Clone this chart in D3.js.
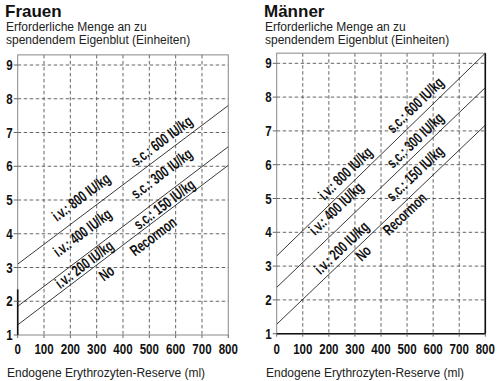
<!DOCTYPE html>
<html><head><meta charset="utf-8">
<script src="https://cdn.jsdelivr.net/npm/d3@7/dist/d3.min.js"></script>
<style>
body{margin:0;background:#fff;}
svg{display:block;}
.narrow{font-family:"Liberation Sans",Arial,sans-serif;font-weight:bold;}
.reg{font-family:"Liberation Sans",Arial,sans-serif;}
</style></head>
<body><svg id="c" width="500" height="381"></svg>
<script>
// ---- data ----
const panelTitles = ["Frauen", "Männer"];
const yTitleLines = ["Erforderliche Menge an zu", "spendendem Eigenblut (Einheiten)"];
const xTitle = "Endogene Erythrozyten-Reserve (ml)";
const xTicks = [0, 100, 200, 300, 400, 500, 600, 700, 800];
const yTicks = [1, 2, 3, 4, 5, 6, 7, 8, 9];
// line endpoints: value at 0 ml and at 800 ml
const frauenStart = [3.1, 1.85, 1.3];
const frauenEnd = [7.8, 6.58, 6.03];
const maennerStart = [3.3, 2.37, 1.28];
const maennerEnd = [9.3, 8.28, 7.17];
// labels: text, line they follow, centre position (ml, units)
const labelTexts = ["i.v.: 800 IU/kg", "s.c.: 600 IU/kg", "i.v.: 400 IU/kg", "s.c.: 300 IU/kg", "i.v.: 200 IU/kg", "s.c.: 150 IU/kg", "No", "Recormon"];
const labelLine = [0, 0, 1, 1, 2, 2, 2, 2];
const frauenLabelX = [240, 546, 245, 546, 252, 556, 337, 514];
const frauenLabelY = [5.09, 6.76, 4.04, 5.79, 3.10, 4.88, 2.84, 3.93];
const maennerLabelX = [262, 530, 227, 530, 248, 530, 331, 490];
const maennerLabelY = [5.75, 7.77, 4.71, 6.73, 3.55, 5.75, 3.39, 4.55];

const svg = d3.select("#c");
const SX = 0.7; // condensed look

function panel(cfg, idx) {
  const g = svg.append("g");
  const x = d3.scaleLinear().domain([0, 800]).range([cfg.x0, cfg.x1]);
  const y = d3.scaleLinear().domain([1, 9]).range([cfg.y1, cfg.y9]);
  const yTop = y(9.3);

  // titles
  g.append("text").attr("class", "reg").attr("x", cfg.tx).attr("y", 17)
    .attr("font-size", 17).attr("font-weight", "bold").attr("fill", "#111").text(cfg.title);
  yTitleLines.forEach((t, i) => g.append("text").attr("class", "reg")
    .attr("x", cfg.tx + 1).attr("y", 31 + i * 13).attr("font-size", 12).attr("fill", "#222").text(t));
  g.append("text").attr("class", "reg").attr("x", cfg.tx + 2).attr("y", 377)
    .attr("font-size", 12).attr("fill", "#222").text(xTitle);

  // grid
  g.selectAll(".gx").data(xTicks.slice(1, -1)).enter().append("line")
    .attr("x1", d => x(d)).attr("x2", d => x(d)).attr("y1", yTop).attr("y2", y(1))
    .attr("stroke", "#555").attr("stroke-width", 0.9).attr("stroke-dasharray", "3.5,2.5");
  g.selectAll(".gy").data(yTicks.slice(1)).enter().append("line")
    .attr("x1", x(0)).attr("x2", x(800)).attr("y1", d => y(d)).attr("y2", d => y(d))
    .attr("stroke", "#555").attr("stroke-width", 0.9).attr("stroke-dasharray", "3.5,2.5");

  // frame
  g.append("rect").attr("x", x(0)).attr("y", yTop).attr("width", x(800) - x(0)).attr("height", y(1) - yTop)
    .attr("fill", "none").attr("stroke", "#888").attr("stroke-width", 1);
  cfg.dark.forEach(s => g.append("line").attr("x1", x(s[0])).attr("x2", x(s[1]))
    .attr("y1", y(s[2])).attr("y2", y(s[3])).attr("stroke", "#111").attr("stroke-width", 1.6));

  // ticks
  g.selectAll(".tx").data(xTicks).enter().append("line")
    .attr("x1", d => x(d)).attr("x2", d => x(d)).attr("y1", y(1)).attr("y2", y(1) + 3)
    .attr("stroke", "#666");
  g.selectAll(".ty").data(yTicks).enter().append("line")
    .attr("x1", x(0) - 4).attr("x2", x(0)).attr("y1", d => y(d)).attr("y2", d => y(d))
    .attr("stroke", "#666");
  g.selectAll(".lx").data(xTicks).enter().append("text").attr("class", "narrow")
    .attr("transform", d => `translate(${x(d)},354) scale(0.77,1)`).attr("text-anchor", "middle")
    .attr("font-size", 15).attr("fill", "#111").text(d => d);
  g.selectAll(".ly").data(yTicks).enter().append("text").attr("class", "narrow")
    .attr("transform", d => `translate(${x(0) - 5},${y(d) + 5}) scale(0.77,1)`).attr("text-anchor", "end")
    .attr("font-size", 15).attr("fill", "#111").text(d => d);

  // lines
  const clipId = "plotclip" + idx;
  g.append("clipPath").attr("id", clipId).append("rect")
    .attr("x", x(0)).attr("y", yTop).attr("width", x(800) - x(0)).attr("height", y(1) - yTop);
  const lineData = cfg.start.map((s, i) => [[0, s], [800, cfg.end[i]]]);
  const line = d3.line().x(d => x(d[0])).y(d => y(d[1]));
  g.append("g").attr("clip-path", `url(#${clipId})`).selectAll("path").data(lineData).enter().append("path")
    .attr("d", line).attr("fill", "none").attr("stroke", "#222").attr("stroke-width", 0.9);

  // labels
  labelTexts.forEach((t, i) => {
    const li = labelLine[i];
    const s = cfg.start[li], e = cfg.end[li];
    const px = x(cfg.labelX[i]), py = y(cfg.labelY[i]);
    const ang = Math.atan2(y(e) - y(s), x(800) - x(0)) * 180 / Math.PI;
    g.append("text").attr("class", "narrow")
      .attr("transform", `translate(${px},${py}) rotate(${ang}) scale(${SX},1)`)
      .attr("dy", "0.36em")
      .attr("text-anchor", "middle").attr("font-size", 15.5).attr("fill", "#111").text(t);
  });
}

panel({title: panelTitles[0], tx: 5, x0: 17.7, x1: 228.3, y1: 335, y9: 65,
  start: frauenStart, end: frauenEnd, labelX: frauenLabelX, labelY: frauenLabelY,
  dark: [[0, 0, 1, 2.35]]}, 0);
panel({title: panelTitles[1], tx: 264, x0: 276.7, x1: 485.3, y1: 333.7, y9: 63.3,
  start: maennerStart, end: maennerEnd, labelX: maennerLabelX, labelY: maennerLabelY,
  dark: [[0, 800, 1, 1], [800, 800, 1, 9.3]]}, 1);
</script></body></html>
